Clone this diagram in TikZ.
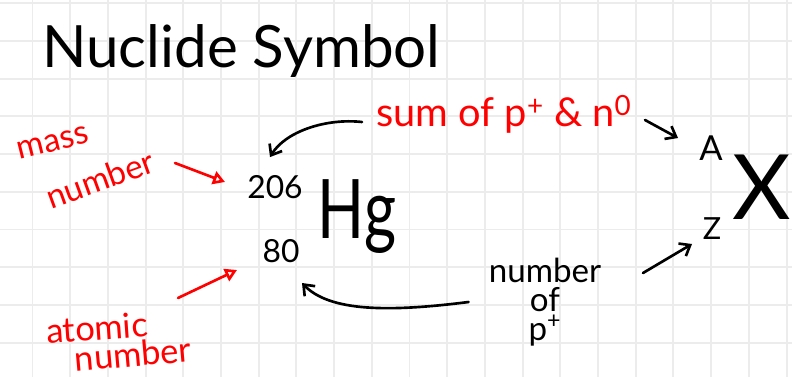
\documentclass[tikz,border=0pt]{standalone}
\usepackage{fontspec}
\setmainfont{Lato}
\usetikzlibrary{arrows.meta,positioning}
\definecolor{gridgray}{RGB}{236,236,236}
\definecolor{inkred}{RGB}{255,0,0}

\begin{document}
\begin{tikzpicture}[x=0.026525cm, y=-0.026525cm,
    ink/.style={text=black, inner sep=0pt},
    redink/.style={text=inkred, inner sep=0pt},
    inkarrow/.style={draw=black, line width=2pt, line cap=round, -{Straight Barb[length=7pt,width=11pt]}},
    redarrow/.style={draw=inkred, line width=2pt, line cap=round, -{Triangle[open,length=9pt,width=10pt]}}]

    \useasboundingbox (0,0) rectangle (792,377);
    \clip (0,0) rectangle (792,377);
    \fill[white] (0,0) rectangle (792,377);

    % Grid paper
    \foreach \gx in {0,...,20}
        \draw[gridgray, line width=1.5pt] (32.5+37.7*\gx,0) -- (32.5+37.7*\gx,377);
    \foreach \gy in {0,...,9}
        \draw[gridgray, line width=1.5pt] (0,3.3+37.7*\gy) -- (792,3.3+37.7*\gy);

    % Title
    \node[ink, anchor=base west, font=\fontsize{44}{50}\selectfont] (title) at (42,68) {Nuclide Symbol};

    % Mercury symbol
    \node[ink, anchor=base, xscale=0.75, font=\fontsize{62}{70}\selectfont] (elem) at (357,238) {Hg};
    \node[ink, font=\fontsize{24}{28}\selectfont] (massval) at (275,187) {206};
    \node[ink, font=\fontsize{24}{28}\selectfont] (atomval) at (281,251) {80};

    % General form
    \node[ink, font=\fontsize{26}{30}\selectfont] (symA) at (711,148) {A};
    \node[ink, font=\fontsize{23}{28}\selectfont] (symZ) at (712,229) {Z};
    \node[ink, font=\fontsize{68}{76}\selectfont] (symX) at (762,187) {X};

    % Labels
    \node[redink, anchor=base west, font=\fontsize{30}{34}\selectfont] (sumlbl) at (376,127)
        {sum of p\textsuperscript{+} \& n\textsuperscript{0}};
    \node[redink, rotate=14, font=\fontsize{25}{30}\selectfont] (masslbl) at (53,143) {mass};
    \node[redink, rotate=20, font=\fontsize{25}{30}\selectfont] (masslbltwo) at (100,179) {number};
    \node[redink, rotate=4, font=\fontsize{26}{30}\selectfont] (atomlbl) at (97,328) {atomic};
    \node[redink, rotate=5, font=\fontsize{26}{30}\selectfont] (atomlbltwo) at (133,354) {number};
    \node[ink, align=center, font=\fontsize{25}{22}\selectfont] (protlbl) at (545,302) {number\\of\\p\textsuperscript{+}};

    % Arrows
    \draw[inkarrow] ([shift={(-14,-5)}]sumlbl.base west) .. controls (325,118) and (285,132) .. ([shift={(-5,-18)}]massval.north);
    \draw[inkarrow] ([shift={(-66,-28)}]symA.center) -- ([shift={(-33,-10)}]symA.center);
    \draw[redarrow] ([shift={(-100,-24)}]massval.center) -- ([shift={(-50,-5)}]massval.center);
    \draw[redarrow] ([shift={(-103,47)}]atomval.center) -- ([shift={(-44,19)}]atomval.center);
    \draw[inkarrow] ([shift={(-20,0)}]protlbl.west) .. controls (390,312) and (330,312) .. ([shift={(21,32)}]atomval.center);
    \draw[inkarrow] ([shift={(-69,44)}]symZ.center) -- ([shift={(-20,15)}]symZ.center);
\end{tikzpicture}
\end{document}
